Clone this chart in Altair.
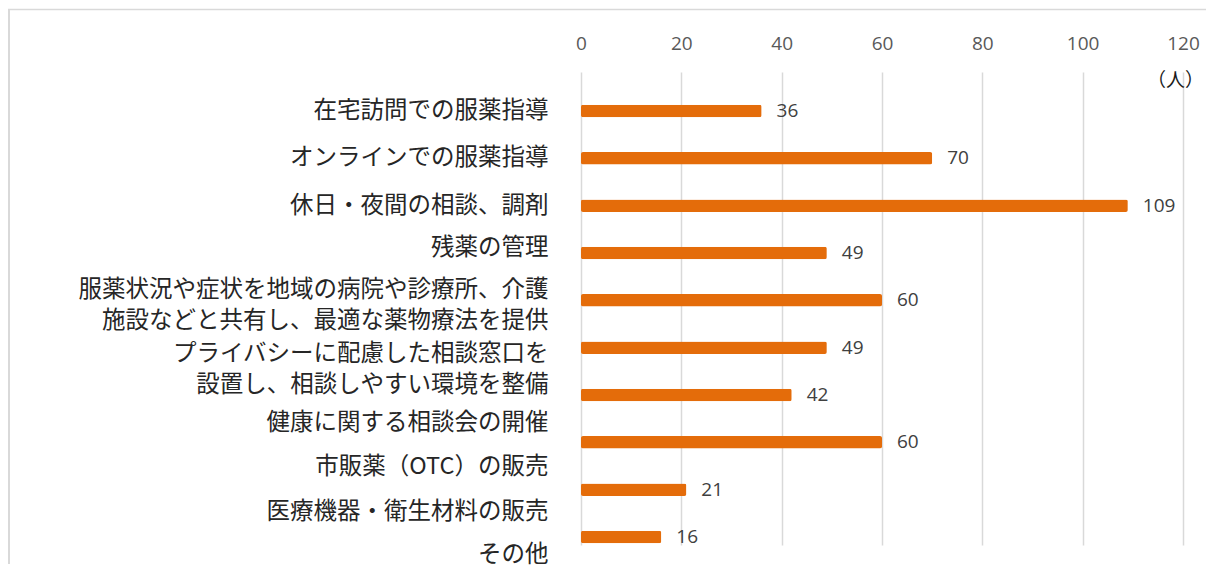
import altair as alt
import pandas as pd

categories = [
    "在宅訪問での服薬指導",
    "オンラインでの服薬指導",
    "休日・夜間の相談、調剤",
    "残薬の管理",
    "服薬状況や症状を地域の病院や診療所、介護\n施設などと共有し、最適な薬物療法を提供",
    "プライバシーに配慮した相談窓口を\n設置し、相談しやすい環境を整備",
    "健康に関する相談会の開催",
    "市販薬（OTC）の販売",
    "医療機器・衛生材料の販売",
    "その他",
]
values = [36, 70, 109, 49, 60, 49, 42, 60, 21, 16]
x_ticks = [0, 20, 40, 60, 80, 100, 120]
unit_label = "（人）"

df = pd.DataFrame({"item": categories, "count": values})

JP = "Noto Sans CJK JP"
NUM = "Open Sans"

label_shift = {
    "残薬の管理": -5,
    "服薬状況": -10,
    "プライバシー": 6,
    "健康に関する": 28,
    "市販薬": 25,
    "医療機器": 22,
    "その他": 18,
}
offset_conditions = [
    {"test": f"indexof(datum.value, '{k}') >= 0", "value": v}
    for k, v in label_shift.items()
]

y_enc = alt.Y(
    "item:N",
    sort=categories,
    title=None,
    scale=alt.Scale(paddingInner=0.736, paddingOuter=0.3645, align=0.95),
    axis=alt.Axis(
        domain=False,
        ticks=False,
        tickSize=0,
        labelFont=JP,
        labelFontSize=23.5,
        labelColor="#262626",
        labelPadding=33,
        labelLimit=0,
        labelLineHeight=31,
        labelExpr="split(datum.label, '\\n')",
        labelOffset={"condition": offset_conditions, "value": 0},
    ),
)

x_enc = alt.X(
    "count:Q",
    title=None,
    scale=alt.Scale(domain=[0, 120], nice=False),
    axis=alt.Axis(
        orient="top",
        values=x_ticks,
        domain=False,
        ticks=False,
        tickSize=0,
        labelFont=NUM,
        labelFontSize=19,
        labelColor="#595959",
        labelPadding=19,
        labelFlush=False,
        grid=True,
        gridColor="#d9d9d9",
        gridWidth=1.5,
    ),
)

base = alt.Chart(df)

bars = base.mark_bar(color="#E46C0A", cornerRadius=2).encode(x=x_enc, y=y_enc)

texts = base.mark_text(
    align="left", baseline="middle", dx=15, font=NUM, fontSize=19, color="#404040"
).encode(x="count:Q", y=alt.Y("item:N", sort=categories), text="count:Q")

one = alt.Chart(pd.DataFrame({"a": [0]}))
unit = one.mark_text(font=JP, fontSize=19, color="#1a1a1a", align="right", baseline="middle").encode(
    x=alt.value(623), y=alt.value(9), text=alt.value(unit_label)
)
border_top = one.mark_rule(color="#d9d9d9", strokeWidth=1.5).encode(
    x=alt.value(-573), x2=alt.value(625), y=alt.value(-62.5)
)
border_left = one.mark_rule(color="#d9d9d9", strokeWidth=2).encode(
    x=alt.value(-572), y=alt.value(-63), y2=alt.value(492)
)

chart = (
    alt.layer(border_top, border_left, bars, texts, unit)
    .properties(
        width=602,
        height=473,
        autosize=alt.AutoSizeParams(type="none"),
        padding={"left": 573, "top": 64, "right": 23, "bottom": 27},
    )
    .configure_view(stroke=None)
)

chart.save("out.html", embed_options={"renderer": "svg", "actions": False})
